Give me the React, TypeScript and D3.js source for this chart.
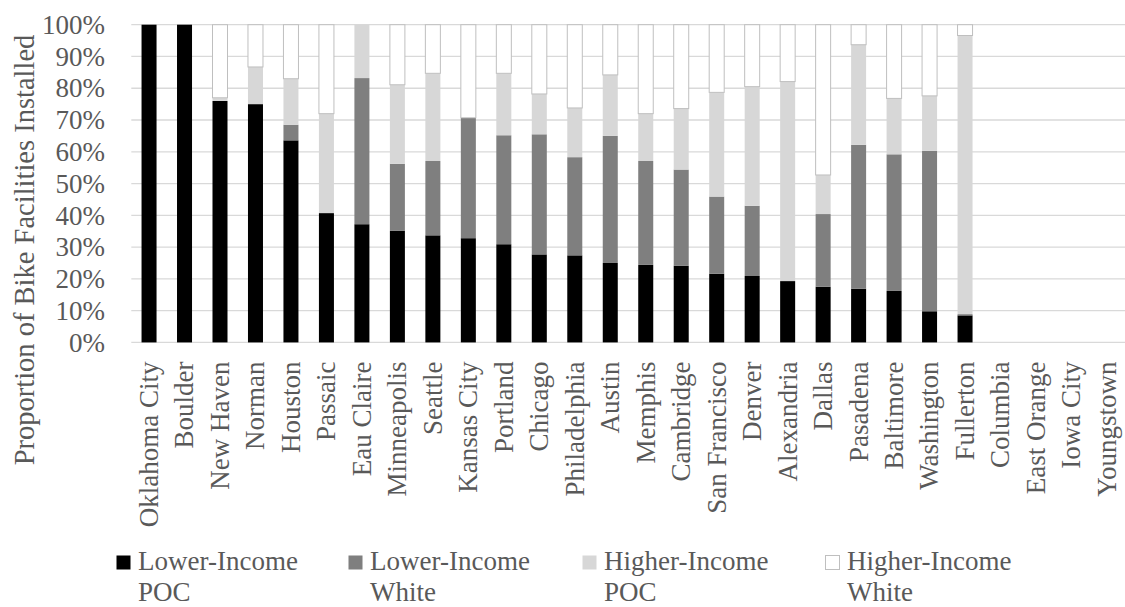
import React from "react";
import * as d3 from "d3";

const cities = [
  "Oklahoma City", "Boulder", "New Haven", "Norman", "Houston", "Passaic",
  "Eau Claire", "Minneapolis", "Seattle", "Kansas City", "Portland", "Chicago",
  "Philadelphia", "Austin", "Memphis", "Cambridge", "San Francisco", "Denver",
  "Alexandria", "Dallas", "Pasadena", "Baltimore", "Washington", "Fullerton",
  "Columbia", "East Orange", "Iowa City", "Youngstown",
];
const lowerIncomePOC = [100, 100, 76, 75, 63.6, 40.7, 37.2, 35.1, 33.7, 32.8, 30.9, 27.7, 27.4, 25.0, 24.4, 24.1, 21.6, 20.9, 19.3, 17.5, 16.9, 16.2, 9.8, 8.5, 0, 0, 0, 0];
const lowerIncomeWhite = [0, 0, 0, 0, 4.9, 0, 46, 21.1, 23.4, 37.9, 34.3, 37.8, 30.9, 40.0, 32.7, 30.3, 24.3, 22.1, 0, 22.9, 45.3, 43.0, 50.5, 0.4, 0, 0, 0, 0];
const higherIncomePOC = [0, 0, 1, 11.7, 14.5, 31.3, 16.8, 24.9, 27.6, 0, 19.5, 12.7, 15.5, 19.2, 14.9, 19.2, 32.8, 37.5, 62.8, 12.3, 31.5, 17.6, 17.3, 87.7, 0, 0, 0, 0];
const higherIncomeWhite = [0, 0, 23, 13.3, 17, 28, 0, 18.9, 15.3, 29.3, 15.3, 21.8, 26.2, 15.8, 28.0, 26.4, 21.3, 19.5, 17.9, 47.3, 6.3, 23.2, 22.4, 3.4, 0, 0, 0, 0];
const seriesNames = ["Lower-Income POC", "Lower-Income White", "Higher-Income POC", "Higher-Income White"];
const legendLines = [["Lower-Income", "POC"], ["Lower-Income", "White"], ["Higher-Income", "POC"], ["Higher-Income", "White"]];
const yTicks = [0, 10, 20, 30, 40, 50, 60, 70, 80, 90, 100];

const fills = ["#000000", "#7f7f7f", "#d7d7d7", "#ffffff"];
const strokes = ["none", "none", "none", "#bfbfbf"];
const textColor = "#595959";
const font = "Liberation Serif";

export default function App() {
  const W = 1125, H = 607;
  const left = 131.3, right = 1124.7, top = 24.7, bottom = 342.4;

  const rows = cities.map((c, i) => ({
    city: c,
    s0: lowerIncomePOC[i],
    s1: lowerIncomeWhite[i],
    s2: higherIncomePOC[i],
    s3: higherIncomeWhite[i],
  }));
  const keys = ["s0", "s1", "s2", "s3"];
  const stacked = d3.stack<any>().keys(keys)(rows);

  const x = d3.scaleBand<string>().domain(cities).range([left, right])
    .paddingInner(0.577).paddingOuter(0.2885);
  const y = d3.scaleLinear().domain([0, 100]).range([bottom, top]);
  const fmt = (v: number) => `${v}%`;
  const legendX = [116, 348, 582, 825];
  const ts = { fontFamily: font };

  return (
    <svg width={W} height={H} style={{ position: "absolute", left: 0, top: 0, display: "block", background: "#fff" }}>
      <rect width={W} height={H} fill="#fff" />
      {yTicks.map((t) => (
        <line key={t} x1={left} x2={W} y1={y(t)} y2={y(t)} stroke="#d9d9d9" strokeWidth={1.3} />
      ))}
      {yTicks.map((t) => (
        <text key={"yl" + t} x={105} y={y(t)} dy="0.34em" textAnchor="end" fontSize={27} fill={textColor} style={ts}>
          {fmt(t)}
        </text>
      ))}
      <text transform={`translate(34,250) rotate(-90)`} textAnchor="middle" fontSize={28.5} fill={textColor} style={ts}>
        Proportion of Bike Facilities Installed
      </text>
      {stacked.map((layer, si) => (
        <g key={si}>
          {layer.map((d, i) => {
            const h = y(d[0]) - y(d[1]);
            if (h <= 0) return null;
            return (
              <rect key={i} x={x(cities[i])} width={x.bandwidth()} y={y(d[1])} height={h}
                fill={fills[si]} stroke={strokes[si]} strokeWidth={strokes[si] === "none" ? 0 : 1} />
            );
          })}
        </g>
      ))}
      {cities.map((c) => (
        <text key={c} transform={`translate(${(x(c) as number) + x.bandwidth() / 2},361.5) rotate(-90)`}
          dy="0.33em" textAnchor="end" fontSize={27} fill={textColor} style={ts}>
          {c}
        </text>
      ))}
      {seriesNames.map((n, i) => (
        <g key={n} transform={`translate(${legendX[i]},0)`}>
          <rect x={0.5} y={555.5} width={14} height={14} fill={fills[i]}
            stroke={i === 3 ? "#bfbfbf" : "none"} strokeWidth={1} />
          <text x={22} y={570} fontSize={27} fill={textColor} style={ts}>{legendLines[i][0]}</text>
          <text x={22} y={601} fontSize={27} fill={textColor} style={ts}>{legendLines[i][1]}</text>
        </g>
      ))}
    </svg>
  );
}
